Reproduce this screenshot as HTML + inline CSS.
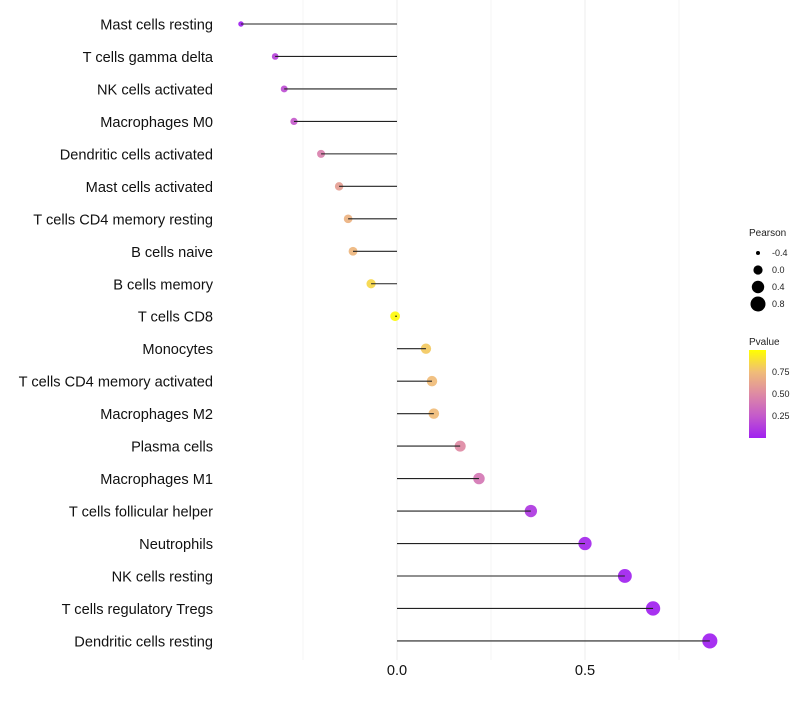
<!DOCTYPE html>
<html><head><meta charset="utf-8"><style>
body{margin:0;background:#fff;font-family:"Liberation Sans",sans-serif}
</style></head><body>
<svg id="chart" width="800" height="700" xmlns="http://www.w3.org/2000/svg">
<g id="grid"></g>
<g id="marks"></g>
<g id="labels"></g>
<g id="xticks"></g>
<g font-size="9" fill="#222">
<text x="749" y="236" font-size="10">Pearson</text>
<circle cx="758" cy="253" r="2" fill="#000"/><text x="772" y="256">-0.4</text>
<circle cx="758" cy="270" r="4.6" fill="#000"/><text x="772" y="273">0.0</text>
<circle cx="758" cy="287" r="6.2" fill="#000"/><text x="772" y="290">0.4</text>
<circle cx="758" cy="304" r="7.5" fill="#000"/><text x="772" y="307">0.8</text>
</g>
<g font-size="9" fill="#222">
<defs><linearGradient id="pg" x1="0" y1="1" x2="0" y2="0">
<stop offset="0" stop-color="#A020F0"/><stop offset="0.25" stop-color="#C45ACB"/><stop offset="0.5" stop-color="#DE8AA4"/><stop offset="0.75" stop-color="#F0BC78"/><stop offset="1" stop-color="#FFFF00"/></linearGradient></defs>
<text x="749" y="345" font-size="10">Pvalue</text>
<rect x="749" y="350" width="17" height="88" fill="url(#pg)"/>
<text x="772" y="375">0.75</text><text x="772" y="397">0.50</text><text x="772" y="419">0.25</text>
</g>
</svg>
<script>
const categories=["Mast cells resting","T cells gamma delta","NK cells activated","Macrophages M0","Dendritic cells activated","Mast cells activated","T cells CD4 memory resting","B cells naive","B cells memory","T cells CD8","Monocytes","T cells CD4 memory activated","Macrophages M2","Plasma cells","Macrophages M1","T cells follicular helper","Neutrophils","NK cells resting","T cells regulatory  Tregs","Dendritic cells resting"];
const pearson=[-0.415,-0.324,-0.30,-0.274,-0.202,-0.154,-0.13,-0.117,-0.069,-0.005,0.077,0.093,0.098,0.168,0.218,0.356,0.5,0.606,0.681,0.832];
const pvalue=[0.0,0.15,0.2,0.25,0.45,0.6,0.7,0.72,0.85,0.98,0.8,0.75,0.75,0.5,0.4,0.1,0.03,0.01,0.005,0.0];
const xTicks=[0,0.5];
const xMinor=[-0.25,0.25,0.75];
const NS="http://www.w3.org/2000/svg";
const xs=v=>397+v*376;
const ys=i=>24+i*32.47;
const rs=v=>Math.sqrt(Math.max(2,24+40*v));
const stops=[[0,[160,32,240]],[0.25,[196,90,203]],[0.5,[222,138,164]],[0.75,[240,188,120]],[1,[255,255,0]]];
function col(p){for(let k=1;k<stops.length;k++){if(p<=stops[k][0]){const a=stops[k-1],b=stops[k],t=(p-a[0])/(b[0]-a[0]);return "rgb("+a[1].map((c,j)=>Math.round(c+(b[1][j]-c)*t)).join(",")+")";}}return "rgb(255,255,0)";}
function mk(t,at,parent){const e=document.createElementNS(NS,t);for(const k in at)e.setAttribute(k,at[k]);parent.appendChild(e);return e;}
const grid=document.getElementById('grid'),marks=document.getElementById('marks'),labels=document.getElementById('labels'),xt=document.getElementById('xticks');
xMinor.forEach(v=>{const l=mk('line',{x1:xs(v),x2:xs(v),y1:0,y2:660,stroke:'#f4f4f4','stroke-width':0.8},grid);

});
xTicks.forEach(v=>{const l=mk('line',{x1:xs(v),x2:xs(v),y1:0,y2:660,stroke:'#eeeeee','stroke-width':1.1},grid);


const t=mk('text',{x:xs(v),y:675,'text-anchor':'middle','font-size':14.6,fill:'#111'},xt);t.textContent=v.toFixed(1);

});
categories.forEach((c,i)=>{const y=ys(i);
const p=mk('circle',{cx:xs(pearson[i]),cy:y,r:rs(pearson[i]),fill:col(pvalue[i]),'fill-opacity':0.92},marks);


const s=mk('line',{x1:xs(0),x2:xs(pearson[i]),y1:y,y2:y,stroke:'#222','stroke-width':1.1},marks);


const t=mk('text',{x:213,y:y+5.5,'text-anchor':'end','font-size':14.6,fill:'#111'},labels);t.textContent=c;

});
</script>
</body></html>
